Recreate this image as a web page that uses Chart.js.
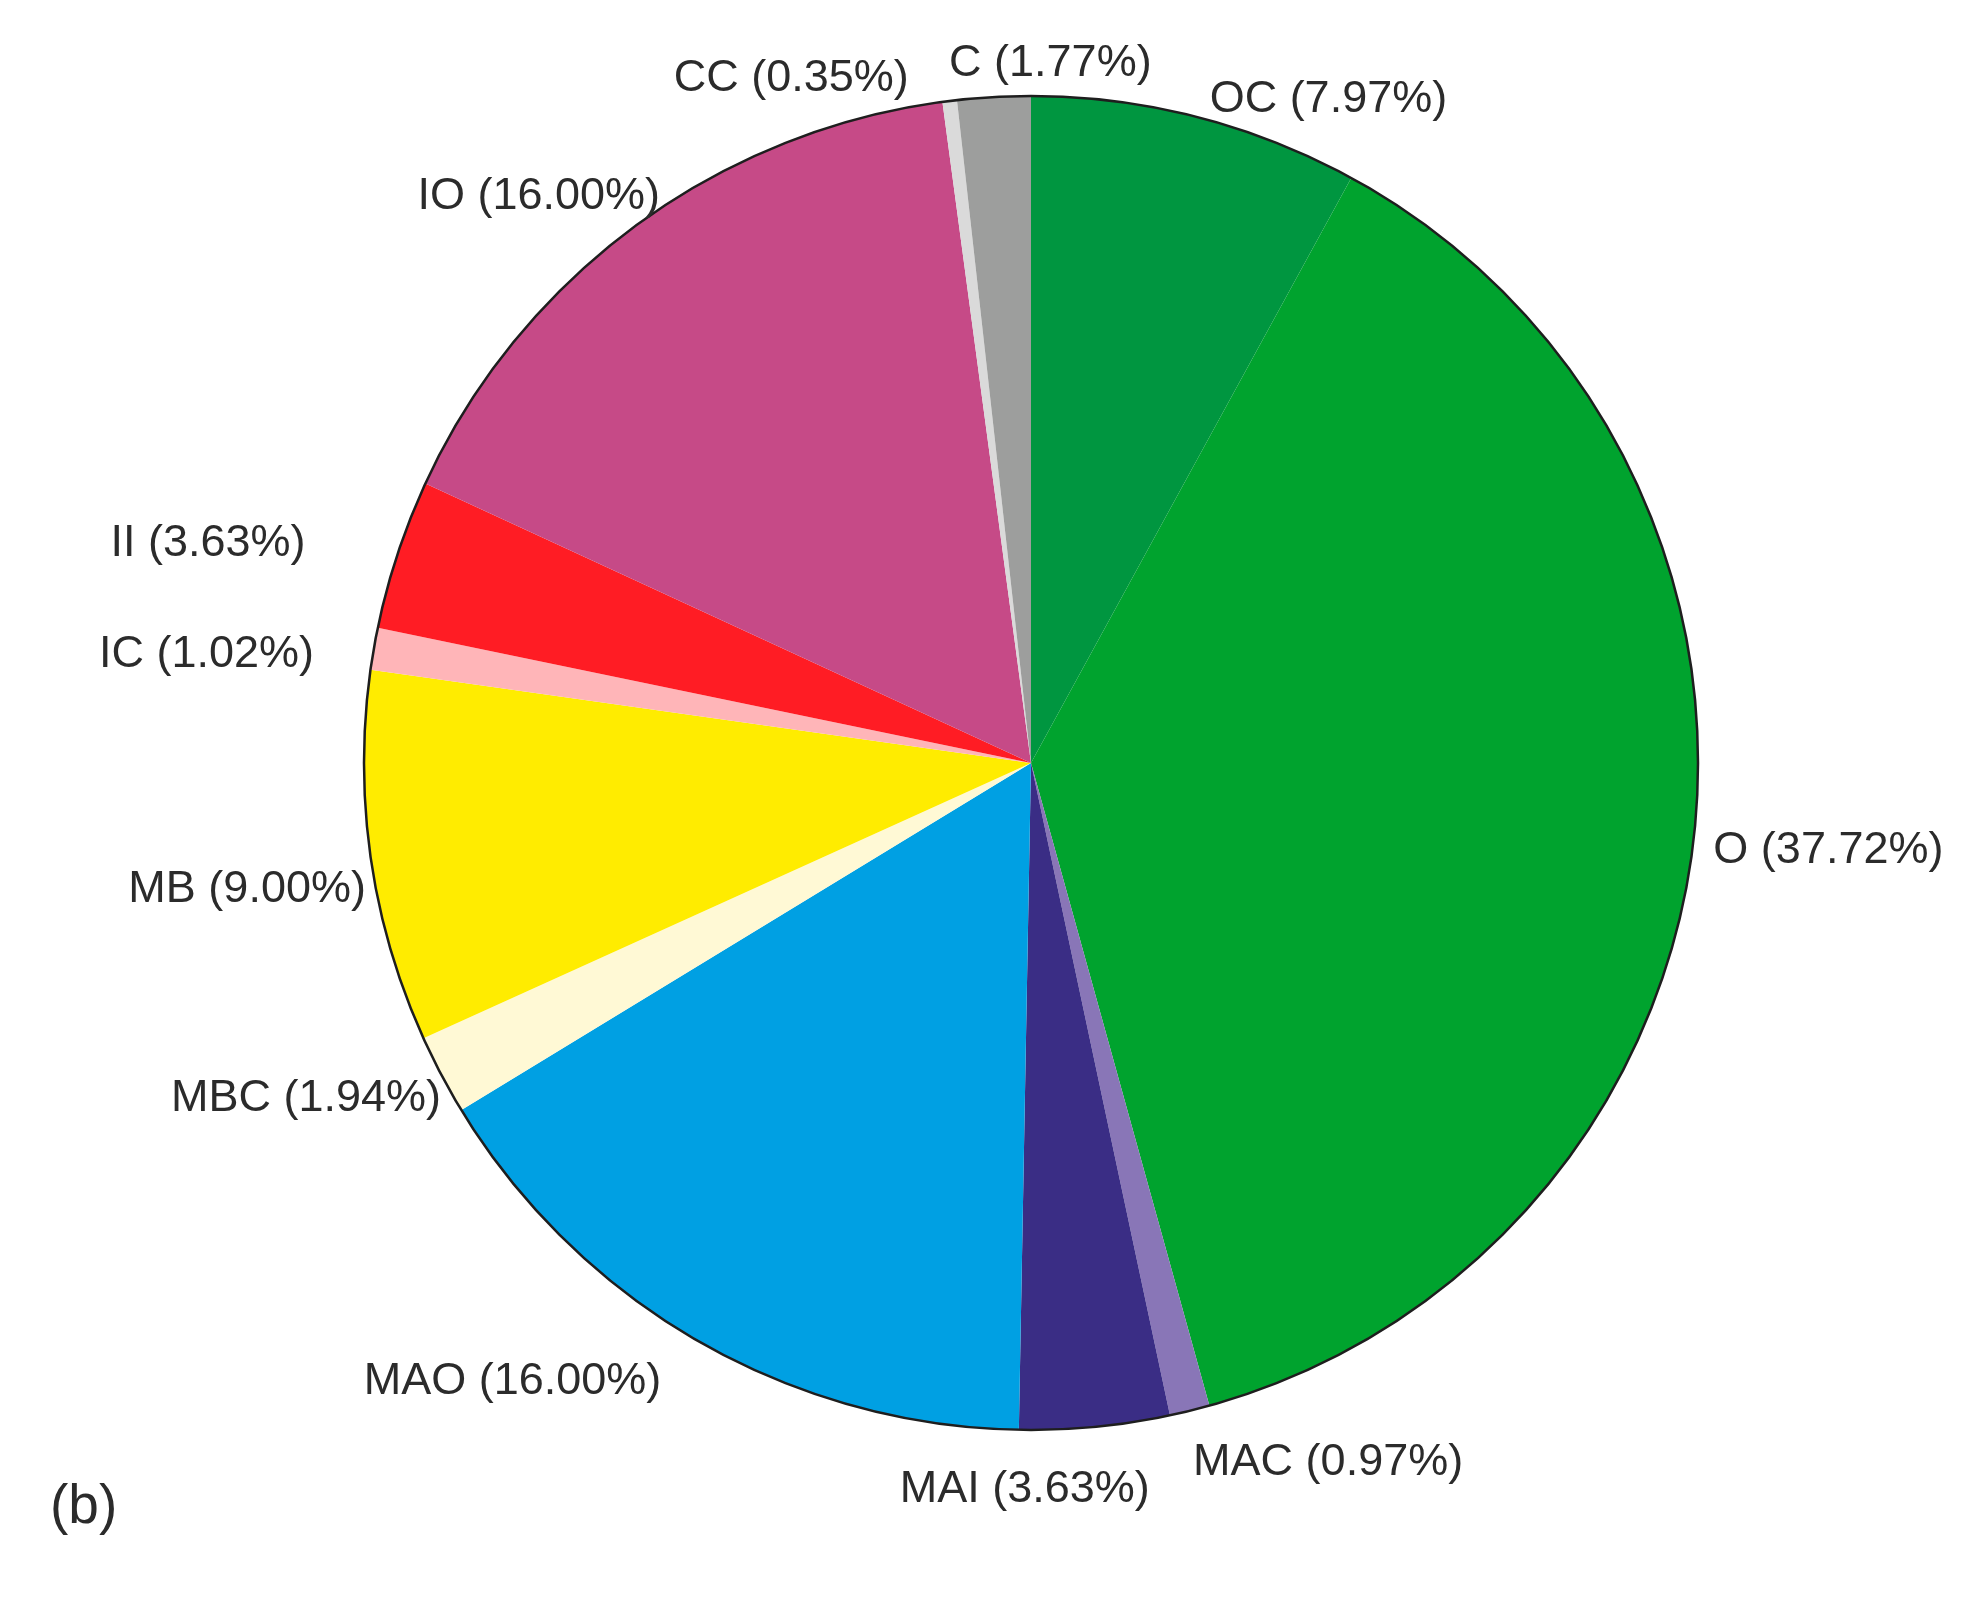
<!DOCTYPE html>
<html>
<head>
<meta charset="utf-8">
<script src="https://cdn.jsdelivr.net/npm/chart.js@4/dist/chart.umd.min.js"></script>
<style>
  html, body { margin: 0; padding: 0; background: #fff; }
  #wrap { width: 1971px; height: 1597px; position: relative; }
</style>
</head>
<body>
<div id="wrap"><canvas id="pie"></canvas></div>
<script>
// slices, clockwise from 12 o'clock
const categories = ["OC", "O", "MAC", "MAI", "MAO", "MBC", "MB", "IC", "II", "IO", "CC", "C"];
const shares = [7.97, 37.72, 0.97, 3.63, 16.00, 1.94, 9.00, 1.02, 3.63, 16.00, 0.35, 1.77];
const sliceColors = ["#009640", "#00a32e", "#8976b7", "#3a2d85", "#00a0e3", "#fff9d5",
                     "#ffec00", "#ffb5b8", "#ff1c24", "#c64a87", "#dadada", "#9d9e9d"];
const panelTag = "(b)";

// label nudges: angle shift (deg) and gap outside the rim (px)
const labelShift = [1.0, 0.75, 0.3, 6.0, 1.0, -1.8, -2.6, -1.3, -1.4, 3.2, -3.3, 4.8];
const labelGap = [8, 21, 29, 37, 54, 12, 10, 58, 91, 10, 16, 20];

const FONT = '45px "Liberation Sans", Arial, sans-serif';
const INK = "#2b2b2b";

const rimAndLabels = {
  id: "rimAndLabels",
  afterDatasetsDraw(chart) {
    const ctx = chart.ctx;
    const arcs = chart.getDatasetMeta(0).data;
    const a0 = arcs[0];
    // outer rim only, no radial lines between slices
    ctx.save();
    ctx.beginPath();
    ctx.arc(a0.x, a0.y, a0.outerRadius, 0, Math.PI * 2);
    ctx.lineWidth = 2.5;
    ctx.strokeStyle = "#1e1e1e";
    ctx.stroke();

    ctx.font = FONT;
    ctx.fillStyle = INK;
    arcs.forEach((arc, i) => {
      const mid = (arc.startAngle + arc.endAngle) / 2 + labelShift[i] * Math.PI / 180;
      const R = arc.outerRadius + labelGap[i];
      const x = arc.x + R * Math.cos(mid);
      const y = arc.y + R * Math.sin(mid);
      const s = Math.cos(mid);   // horizontal component
      const c = -Math.sin(mid);  // vertical component (up positive)
      ctx.textAlign = Math.abs(s) < 0.1 ? "center" : (s > 0 ? "left" : "right");
      ctx.textBaseline = c > 0.9 ? "alphabetic" : (c < -0.9 ? "top" : "middle");
      const txt = categories[i] + " (" + shares[i].toFixed(2) + "%)";
      ctx.fillText(txt, x, y);
    });

    ctx.font = '55px "Liberation Sans", Arial, sans-serif';
    ctx.textAlign = "left";
    ctx.textBaseline = "middle";
    ctx.fillText(panelTag, 50, 1508);
    ctx.restore();
  }
};

new Chart(document.getElementById("pie"), {
  type: "pie",
  data: {
    labels: categories,
    datasets: [{
      data: shares,
      backgroundColor: sliceColors,
      borderWidth: 0
    }]
  },
  options: {
    responsive: true,
    maintainAspectRatio: false,
    animation: false,
    layout: { padding: { left: 364, right: 273, top: 96, bottom: 167 } },
    plugins: {
      legend: { display: false },
      tooltip: { enabled: false }
    }
  },
  plugins: [rimAndLabels]
});
</script>
</body>
</html>
